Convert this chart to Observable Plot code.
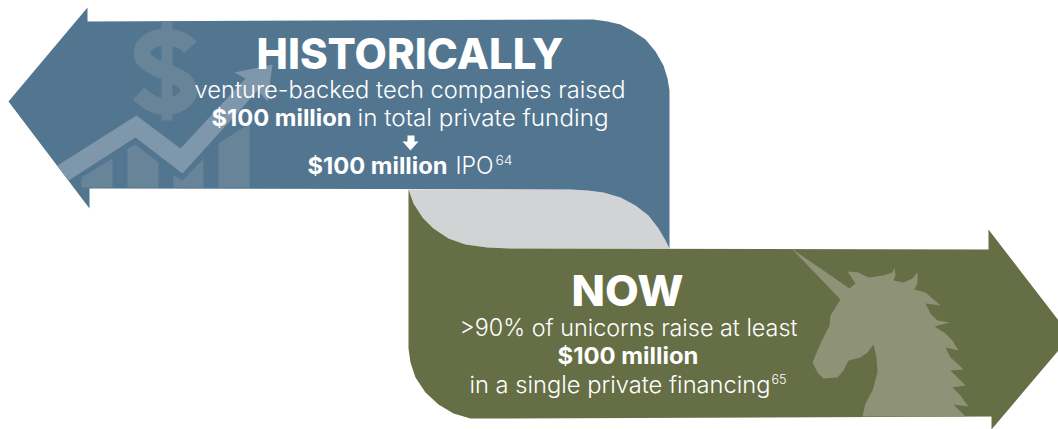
<!DOCTYPE html>
<html><head><meta charset="utf-8">
<script src="https://cdn.jsdelivr.net/npm/d3@7"></script>
<script src="https://cdn.jsdelivr.net/npm/@observablehq/plot@0.6"></script>
<style>html,body{margin:0;padding:0;background:#fff}svg{display:block;background:#fff}</style>
</head><body><div id="chart"></div>
<script>
const greyTop=[[570,189],[587,190],[603,192],[620,197],[635,205],[648,215],[658,228],[665,240],[669,248]];
const greyBottom=[[510,248],[487,247],[465,244],[448,238],[433,228],[422,217],[413,203],[408,189]];
const blueArrow=[[8,101],[87,7],[87,21],[593,19],[607,21],[620,24],[633,31],[645,39],[655,51],[663,65],[667,78],[669,90],...greyTop.slice().reverse(),[89,188],[89,208]];
const greenArrow=[...greyBottom.slice().reverse(),[988,249],[988,229],[1058,320],[1058,350],[991,429],[991,416],[487,418],[470,418],[453,413],[438,404],[425,392],[415,377],[410,362],[408,348]];
const greyBand=[...greyTop,...greyBottom];
const unicorn=[[791,248],[849,288],[855,283],[847,271],[858,272],[868,277],[883,275],[892,272],[894,267],[895,275],[893,280],[903,282],[912,278],[917,272],[917,282],[914,289],[925,292],[932,298],[940,305],[925,303],[930,313],[937,320],[949,322],[934,326],[945,333],[952,340],[958,350],[945,347],[950,357],[957,363],[963,369],[950,370],[957,377],[965,385],[952,387],[960,395],[968,406],[953,404],[965,416],[862,416],[865,403],[872,390],[877,372],[876,357],[873,344],[867,352],[860,357],[848,360],[843,370],[837,377],[823,378],[817,372],[812,362],[817,350],[823,337],[829,325],[830,315],[840,299]];
const bars=[
  [[81,187],[81,177],[112,158],[112,187]],
  [[127,187],[127,148],[135,144],[158,162],[158,187]],
  [[173,187],[173,175],[182,180],[203,158],[203,187]],
  [[218,187],[218,143],[249,123],[249,187]]
];
const trendArrow=[[57,165],[136,115],[180,148],[245,78],[234,72],[272,64],[267,101],[257,90],[182,173],[135,137],[68,180]];
const dollarS=[[190,47],[183,41],[170,37],[155,38],[143,47],[143,58],[155,67],[170,73],[185,82],[188,93],[178,103],[163,106],[150,102],[138,93]];
const dollarBar=[[161,21],[172,21],[172,120],[161,120]];
const downArrow=[[407,135],[414,135],[414,141],[418,141],[410,150],[402,141],[407,141]];

const lightText=["venture-backed tech companies raised","in total private funding","IPO",">90% of unicorns raise at least","in a single private financing"];
const lightX=[194,357,455,459,469], lightY=[97,125,173,335,392], lightW=[431,251,38,338,301];
const boldText=["$100 million","$100 million","$100 million"];
const boldX=[211,307,557], boldY=[125,173,363], boldW=[140,140,141];
const titleText=["HISTORICALLY","NOW"];
const titleX=[256,571], titleY=[68,305], titleW=[307,112];
const noteText=["64","65"];
const noteX=[495,771], noteY=[164,383], noteW=[17,15];

const FONT="Inter, 'Open Sans', sans-serif";
const shape=(pts,fill)=>Plot.line(pts,{x:d=>d[0],y:d=>d[1],fill,stroke:"none",curve:"linear"});
const label=(text,xs,ys,ws,size,weight)=>Plot.text(text.map((t,i)=>i),{
  x:i=>xs[i],y:i=>ys[i],text:i=>text[i],fill:"#fff",fontSize:size,fontWeight:weight,
  fontFamily:FONT,textAnchor:"start",lineAnchor:"bottom",
  render(index,scales,values,dims,ctx,next){
    const g=next(index,scales,values,dims,ctx);
    d3.select(g).selectAll("text").attr("textLength",d=>ws[d]).attr("lengthAdjust","spacingAndGlyphs");
    return g;
  }
});
const chart=Plot.plot({
  width:1058,height:429,margin:0,
  x:{domain:[0,1058],axis:null},
  y:{domain:[429,0],axis:null},
  style:{background:"#fff"},
  marks:[
    shape(greyBand,"#d1d3d4"),
    shape(blueArrow,"#527590"),
    shape(dollarBar,"#688499"),
    Plot.line(dollarS,{x:d=>d[0],y:d=>d[1],stroke:"#688499",strokeWidth:17,curve:"catmull-rom",strokeLinecap:"butt"}),
    ...bars.map(b=>shape(b,"#688499")),
    shape(trendArrow,"#7f97ab"),
    shape(greenArrow,"#666e45"),
    shape(unicorn,"#8e9277"),
    shape(downArrow,"#fff"),
    label(titleText,titleX,titleY,titleW,42,800),
    label(lightText,lightX,lightY,lightW,23.5,300),
    label(boldText,boldX,boldY,boldW,22.5,700),
    label(noteText,noteX,noteY,noteW,12.5,300)
  ]
});
document.getElementById("chart").append(chart);
</script></body></html>
